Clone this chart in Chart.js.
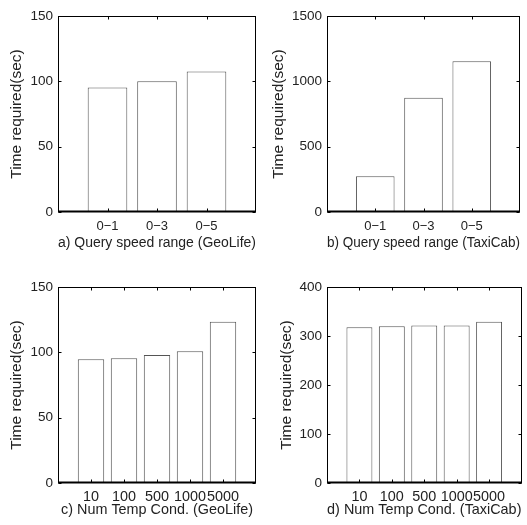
<!DOCTYPE html>
<html>
<head>
<meta charset="utf-8">
<script src="https://cdn.jsdelivr.net/npm/chart.js@4"></script>
<style>
  body { margin: 0; background: #fff; }
  #wrap { position: relative; width: 527px; height: 525px; }
  .panel { position: absolute; }
</style>
</head>
<body>
<div id="wrap">
  <div class="panel" style="left:0;top:0;width:264px;height:262px"><canvas id="ca"></canvas></div>
  <div class="panel" style="left:264px;top:0;width:263px;height:262px"><canvas id="cb"></canvas></div>
  <div class="panel" style="left:0;top:262px;width:264px;height:263px"><canvas id="cc"></canvas></div>
  <div class="panel" style="left:264px;top:262px;width:263px;height:263px"><canvas id="cd"></canvas></div>
</div>
<script>
// speed range experiments
var speedLabels = ["0\u22121", "0\u22123", "0\u22125"];
var geoSpeed = [95.2, 100, 107.5];
var taxiSpeed = [274, 875, 1154];

// number of temporal conditions
var condLabels = ["10", "100", "500", "1000", "5000"];
var geoCond = [94.7, 95.5, 98.0, 100.8, 123.4];
var taxiCond = [318, 320, 321.5, 321.5, 329];

var FONT = "'Liberation Sans', Arial, sans-serif";
var TXT = "#222";

// matlab style box with inward ticks
var boxPlugin = {
  id: "box",
  afterDatasetsDraw(chart) {
    var ctx = chart.ctx, a = chart.chartArea, x = chart.scales.x, y = chart.scales.y;
    var l = Math.round(a.left) + 0.5, r = Math.round(a.right) - 0.5;
    var t = Math.round(a.top) + 0.5, b = Math.round(a.bottom) - 0.5;
    ctx.save();
    ctx.strokeStyle = "#000";
    ctx.lineWidth = 1;
    ctx.strokeRect(l, t, r - l, b - t);
    ctx.beginPath();
    y.ticks.forEach(function (tk) {
      var py = Math.round(y.getPixelForValue(tk.value)) + 0.5;
      ctx.moveTo(l, py); ctx.lineTo(l + 3, py);
      ctx.moveTo(r, py); ctx.lineTo(r - 3, py);
    });
    x.ticks.forEach(function (tk, i) {
      if (!chart.data.labels[i]) return;
      var px = Math.round(x.getPixelForValue(i)) + 0.5;
      ctx.moveTo(px, b); ctx.lineTo(px, b - 3);
      ctx.moveTo(px, t); ctx.lineTo(px, t + 3);
    });
    ctx.stroke();
    ctx.lineWidth = 2;
    ctx.beginPath();
    ctx.moveTo(l - 0.5, b); ctx.lineTo(r + 0.5, b);
    ctx.stroke();
    ctx.restore();
  }
};

function makePanel(id, cats, vals, yMax, yStep, title, area) {
  var labels = [""].concat(cats, [""]);
  var data = [null].concat(vals, [null]);
  var el = document.getElementById(id);
  var w = el.parentNode.clientWidth, h = el.parentNode.clientHeight;
  new Chart(el, {
    type: "bar",
    data: {
      labels: labels,
      datasets: [{
        data: data,
        backgroundColor: "#fff",
        borderColor: "#555",
        borderWidth: 1,
        categoryPercentage: 0.8,
        barPercentage: 1
      }]
    },
    options: {
      responsive: true,
      maintainAspectRatio: false,
      animation: false,
      events: [],
      layout: { padding: { left: 0, top: area.top, right: w - area.right, bottom: 0 } },
      plugins: { legend: { display: false }, tooltip: { enabled: false } },
      scales: {
        x: {
          offset: false,
          grid: { display: false, drawTicks: false },
          border: { display: false },
          ticks: { color: TXT, font: { family: FONT, size: area.tickF }, padding: area.tickP, maxRotation: 0, autoSkip: false },
          title: { display: true, text: title, color: TXT, font: { family: FONT, size: area.titleF }, padding: { top: 0, bottom: area.titleB } },
          afterFit: function (s) { s.height = h - area.bottom; }
        },
        y: {
          min: 0, max: yMax,
          grid: { display: false, drawTicks: false },
          border: { display: false },
          ticks: { stepSize: yStep, color: TXT, font: { family: FONT, size: 13.5 }, padding: 5,
                   callback: function (v) { return String(v); } },
          title: { display: true, text: "Time required(sec)", color: TXT, font: { family: FONT, size: 15.5 }, padding: { top: area.titleL, bottom: 0 } },
          afterFit: function (s) { s.width = area.left; }
        }
      }
    },
    plugins: [boxPlugin]
  });
}

makePanel("ca", speedLabels, geoSpeed, 150, 50, "a) Query speed range (GeoLife)",
  { left: 58, right: 256, top: 16, bottom: 212, titleB: 10.5, titleL: 7.5, tickF: 13, tickP: 7, titleF: 14 });
makePanel("cb", speedLabels, taxiSpeed, 1500, 500, "b) Query speed range (TaxiCab)",
  { left: 63, right: 261, top: 16, bottom: 212, titleB: 10.5, titleL: 5, tickF: 13, tickP: 7, titleF: 14 });
makePanel("cc", condLabels, geoCond, 150, 50, "c) Num Temp Cond. (GeoLife)",
  { left: 58, right: 256, top: 25, bottom: 221, titleB: 6, titleL: 7.5, tickF: 14.4, tickP: 5.5, titleF: 14.4 });
makePanel("cd", condLabels, taxiCond, 400, 100, "d) Num Temp Cond. (TaxiCab)",
  { left: 63, right: 261, top: 25, bottom: 221, titleB: 6, titleL: 13.5, tickF: 14.4, tickP: 5.5, titleF: 14.4 });
</script>
</body>
</html>
